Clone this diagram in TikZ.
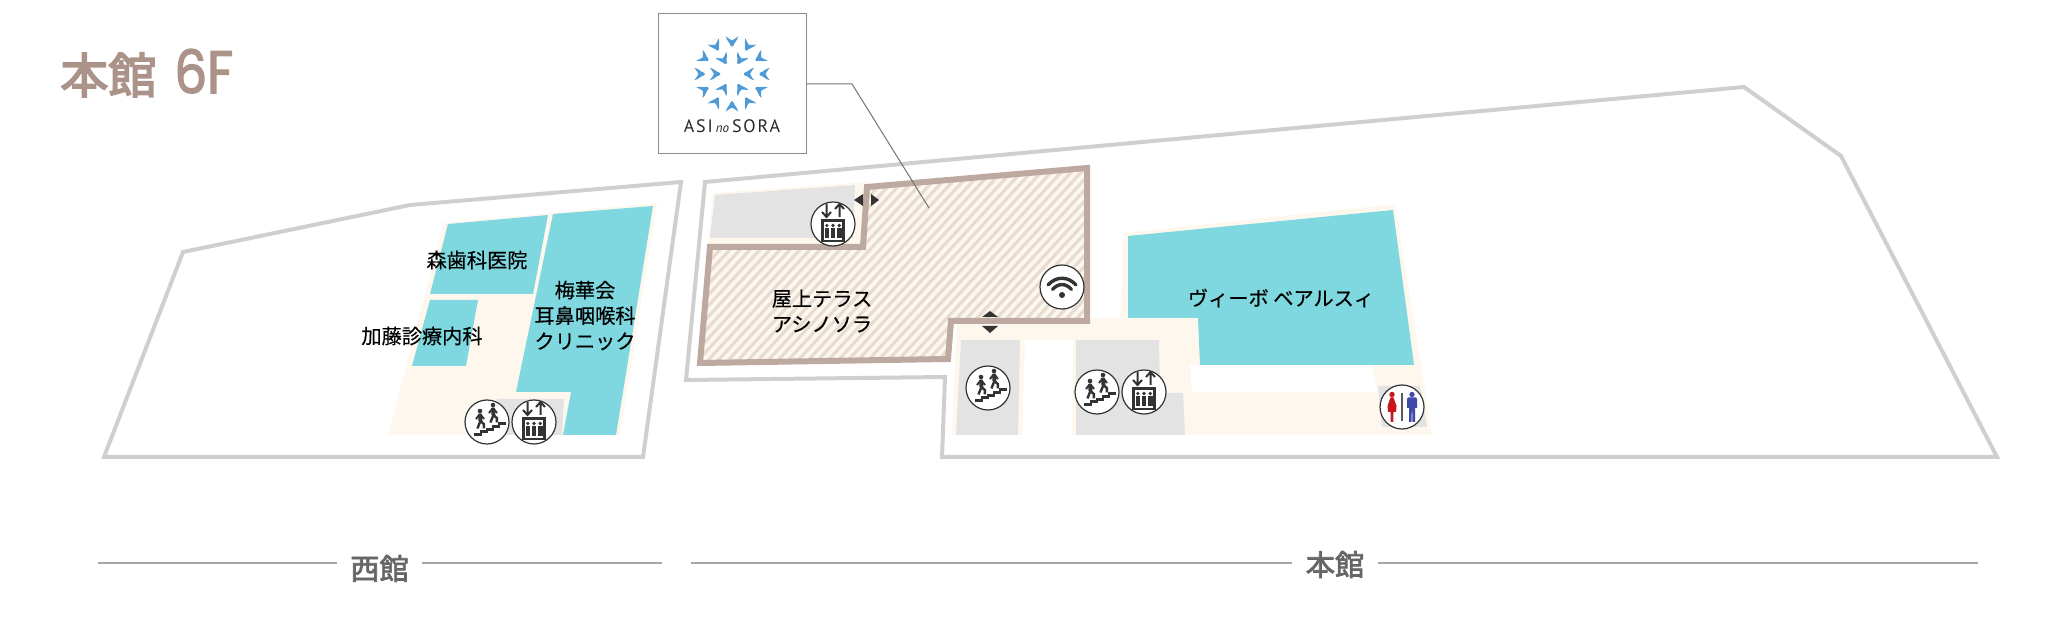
\documentclass[tikz,border=0pt]{standalone}
\usepackage{fontspec}
\usetikzlibrary{arrows,positioning,calc}
\setmainfont{Noto Sans CJK JP}
\newfontfamily\titlecjk[FakeBold=3.5]{Noto Sans CJK JP}
\newfontfamily\sidecjk[FakeBold=2.5]{Noto Sans CJK JP}
\newfontfamily\shopcjk[FakeBold=0.35]{Noto Sans CJK JP}
\newfontfamily\titlelatin[FakeStretch=0.86,FakeBold=2.2]{Poppins}
\newfontfamily\logofont[LetterSpace=10]{PT Sans}
\definecolor{wallgray}{HTML}{CFCFCF}
\definecolor{floorcream}{HTML}{FEF7EE}
\definecolor{coregray}{HTML}{E3E3E3}
\definecolor{shopblue}{HTML}{7FD8DF}
\definecolor{terracebrown}{HTML}{BDA99F}
\definecolor{hatchbrown}{HTML}{E6DCD3}
\definecolor{titlebrown}{HTML}{AB938A}
\definecolor{glyphdark}{HTML}{333333}
\definecolor{logoblue}{HTML}{4D9AD6}
\definecolor{wcred}{HTML}{C8161D}
\definecolor{wcblue}{HTML}{3F4AA8}
\tikzset{
  wall/.style={draw=wallgray, line width=2pt, line join=miter},
  floorarea/.style={fill=floorcream},
  corearea/.style={fill=coregray},
  shoparea/.style={fill=shopblue},
  shoplabel/.style={align=center, text=black, font=\shopcjk\fontsize{10.1}{12.75}\selectfont},
  sidelabel/.style={text=black!60, inner ysep=0pt, font=\sidecjk\fontsize{14.6}{16}\selectfont},
  sideline/.style={draw=black!35, line width=0.75pt},
  iconring/.style={circle, draw=glyphdark, fill=white, line width=0.6pt, minimum size=22pt, inner sep=0pt},
  birdglyph/.pic={
    \fill[logoblue] (-6.2,-4.6) .. controls (-3.5,-2.4) and (-1.5,-1.2) .. (0,-0.6)
      .. controls (1.5,-1.2) and (3.5,-2.4) .. (6.2,-4.6)
      .. controls (5.2,0) and (2.4,1) .. (1,5.5) -- (-1,5.5)
      .. controls (-2.4,1) and (-5.2,0) .. (-6.2,-4.6) -- cycle;
  },
  personglyph/.pic={
    \fill[glyphdark] (0,-5) circle[radius=2.3];
    \draw[glyphdark, line width=1.9pt] (0,-2) -- (0.4,5);
    \draw[glyphdark, line width=1pt] (0,-2) -- (-4,3) (0,-2) -- (4,3);
    \draw[glyphdark, line width=1.2pt] (0.4,5) -- (-2.6,12.5) (0.4,5) -- (3.8,8) -- (3.8,12.5);
  },
  stairglyph/.pic={
    \pic at (-7,-6) {personglyph};
    \pic at (6,-12) {personglyph};
    \foreach \k in {0,...,4}
      \fill[glyphdark] ({-13+6*\k},{14-2.7*\k}) rectangle ++(8,-3);
  },
  liftglyph/.pic={
    \draw[glyphdark, line width=1pt, line join=miter] (-6.5,-20) -- (-6.5,-7) (-11,-12) -- (-6.5,-7) -- (-2,-12);
    \draw[glyphdark, line width=1pt, line join=miter] (6.5,-7) -- (6.5,-20) (2,-15) -- (6.5,-20) -- (11,-15);
    \draw[glyphdark, line width=1.2pt] (-10.5,-3.5) rectangle (10.5,17);
    \foreach \d in {-6.2,0,6.2} {
      \fill[glyphdark] (\d,1.5) circle[radius=1.8];
      \fill[glyphdark] (\d-2.3,3.8) rectangle (\d+2.3,14.5);
    }
  },
  wifiglyph/.pic={
    \fill[glyphdark] (0,8) circle[radius=3];
    \draw[glyphdark, line width=1.7pt, line cap=round] (-14,-2) .. controls (-6,-11) and (6,-11) .. (14,-2);
    \draw[glyphdark, line width=1.7pt, line cap=round] (-9.5,2.5) .. controls (-4,-4) and (4,-4) .. (9.5,2.5);
  },
  wcglyph/.pic={
    \draw[black!65, line width=0.8pt] (0,-14) -- (0,14);
    \fill[wcred] (-10,-12.5) circle[radius=2.7];
    \fill[wcred] (-11.5,-9.5) -- (-8.5,-9.5) -- (-5.5,-1) -- (-6,5) -- (-8.5,5) -- (-8.7,15) -- (-9.8,15) -- (-10,6) -- (-10.2,15) -- (-11.3,15) -- (-11.5,5) -- (-14,5) -- (-14.5,-1) -- cycle;
    \fill[wcblue] (10,-12.5) circle[radius=2.7];
    \fill[wcblue] (6,-9.5) -- (14,-9.5) -- (15,-8) -- (15,1) -- (13,1) -- (13,15) -- (10.5,15) -- (10.2,4) -- (9.8,4) -- (9.5,15) -- (7,15) -- (7,1) -- (5,1) -- (5,-8) -- cycle;
  }
}
\begin{document}
\begin{tikzpicture}[x=0.5pt, y=-0.5pt]
  \useasboundingbox (0,0) rectangle (2048,640);

  \node (title) [anchor=west, inner sep=0pt, text=titlebrown] at (60,73)
    {\titlecjk\fontsize{24}{24}\selectfont 本館\hspace{9pt}{\titlelatin\fontsize{30}{30}\selectfont 6F}};

  \draw [wall] (183,252) -- (410,205) -- (681,182) -- (643,457) -- (104,457) -- cycle;
  \draw [wall] (705,182) -- (1744,87) -- (1841,156) -- (1997,457) -- (942,457) -- (945,377) -- (686,380) -- cycle;

  \fill [floorarea] (388,435) -- (444,223) -- (657,203) -- (620,435) -- cycle;
  \fill [shoparea] (448,224) -- (548,215) -- (533,294) -- (430,294) -- cycle;
  \fill [shoparea] (430,300) -- (478,300) -- (466,366) -- (412,366) -- cycle;
  \fill [shoparea] (553,214) -- (653,206) -- (616,435) -- (563,435) -- (571,392) -- (516,392) -- cycle;
  \fill [corearea] (497,399) -- (564,399) -- (562,435) -- (497,435) -- cycle;

  \fill [floorarea] (708,245) -- (713,193) -- (868,182) -- (863,245) -- cycle;
  \fill [corearea] (715,195) -- (855,185) -- (853,238) -- (710,238) -- cycle;
  \fill [floorarea] (952,435) -- (957,318) -- (1120,318) -- (1124,233) -- (1395,204) -- (1432,435) -- cycle;
  \fill [white] (1025,340) -- (1073,340) -- (1072,435) -- (1022,435) -- cycle;
  \fill [white] (1190,365) -- (1372,365) -- (1377,392) -- (1192,392) -- cycle;
  \fill [corearea] (961,340) -- (1020,340) -- (1018,435) -- (956,435) -- cycle;
  \fill [corearea] (1076,340) -- (1159,340) -- (1160,393) -- (1183,393) -- (1185,435) -- (1076,435) -- cycle;
  \fill [corearea] (1378,386) -- (1420,386) -- (1427,427) -- (1382,427) -- cycle;
  \fill [shoparea] (1128,236) -- (1393,210) -- (1414,365) -- (1200,365) -- (1198,318) -- (1128,318) -- cycle;

  \begin{scope}
    \clip (867,187) -- (1087,168) -- (1087,321) -- (951,321) -- (948,359) -- (700,363) -- (710,247) -- (863,247) -- cycle;
    \fill [floorarea] (680,150) rectangle (1100,380);
    \foreach \x in {450,460,...,1100}
      \draw [hatchbrown, line width=1.6pt] (\x,380) -- (\x+230,130);
  \end{scope}
  \draw [terracebrown, line width=3pt] (867,187) -- (1087,168) -- (1087,321) -- (951,321) -- (948,359) -- (700,363) -- (710,247) -- (863,247) -- cycle;

  \fill [glyphdark] (854,200) -- (863,194) -- (863,206) -- cycle;
  \fill [glyphdark] (879,200) -- (871,194) -- (871,206) -- cycle;
  \fill [glyphdark] (990,311) -- (982,317) -- (998,317) -- cycle;
  \fill [glyphdark] (990,333) -- (982,326) -- (998,326) -- cycle;

  \node (morilbl) [shoplabel] at (477,260) {森歯科医院};
  \node (katolbl) [shoplabel] at (422,336) {加藤診療内科};
  \node (baikalbl) [shoplabel] at (585,315.5) {梅華会\\耳鼻咽喉科\\クリニック};
  \node (roofbl) [shoplabel] at (822,311) {屋上テラス\\アシノソラ};
  \node (vivolbl) [shoplabel] at (1281,298) {ヴィーボ ベアルスィ};

  \node (stairW) [iconring] at (487,422) {};
  \node (liftW) [iconring] at (534,422) {};
  \node (liftR) [iconring] at (833,224) {};
  \node (wifiR) [iconring] at (1062,287) {};
  \node (stairA) [iconring] at (988,388) {};
  \node (stairB) [iconring] at (1097,392) {};
  \node (liftB) [iconring] at (1144,392) {};
  \node (toilet) [iconring] at (1402,407) {};
  \pic at (stairW) {stairglyph};
  \pic at (liftW) {liftglyph};
  \pic at (liftR) {liftglyph};
  \pic at (wifiR) {wifiglyph};
  \pic at (stairA) {stairglyph};
  \pic at (stairB) {stairglyph};
  \pic at (liftB) {liftglyph};
  \pic at (toilet) {wcglyph};

  \node (logobox) [draw=black!45, fill=white, line width=0.5pt, minimum width=74pt, minimum height=70pt, inner sep=0pt] at (732,84) {};
  \coordinate (logobend) at (852,84);
  \coordinate (logoend) at (929,208);
  \draw [black!55, line width=0.5pt] (logobox.east) -- (logobend) -- (logoend);
  \foreach \a in {0,30,...,330}
    \pic [rotate=-\a] at ({732+33*sin(\a)},{74-33*cos(\a)}) {birdglyph};
  \foreach \a in {30,90,...,330}
    \pic [rotate=-\a] at ({732+17.5*sin(\a)},{74-17.5*cos(\a)}) {birdglyph};
  \node (logotext) [inner sep=0pt, text=black!85] at (732,126)
    {\logofont\fontsize{9}{9}\selectfont ASI\,{\addfontfeature{LetterSpace=0}\fontsize{6.5}{6}\selectfont\itshape no}\,SORA};

  \node (westlbl) [sidelabel, minimum width=42.5pt, inner xsep=0pt] at (379.5,568.5) {西館};
  \node (mainlbl) [sidelabel, minimum width=43pt, inner xsep=0pt] at (1335,564.5) {本館};
  \coordinate (westA) at (98,563);
  \coordinate (westB) at (662,563);
  \coordinate (mainA) at (691,563);
  \coordinate (mainB) at (1978,563);
  \draw [sideline] (westA) -- (westlbl.west |- westA);
  \draw [sideline] (westlbl.east |- westB) -- (westB);
  \draw [sideline] (mainA) -- (mainlbl.west |- mainA);
  \draw [sideline] (mainlbl.east |- mainB) -- (mainB);
\end{tikzpicture}
\end{document}
